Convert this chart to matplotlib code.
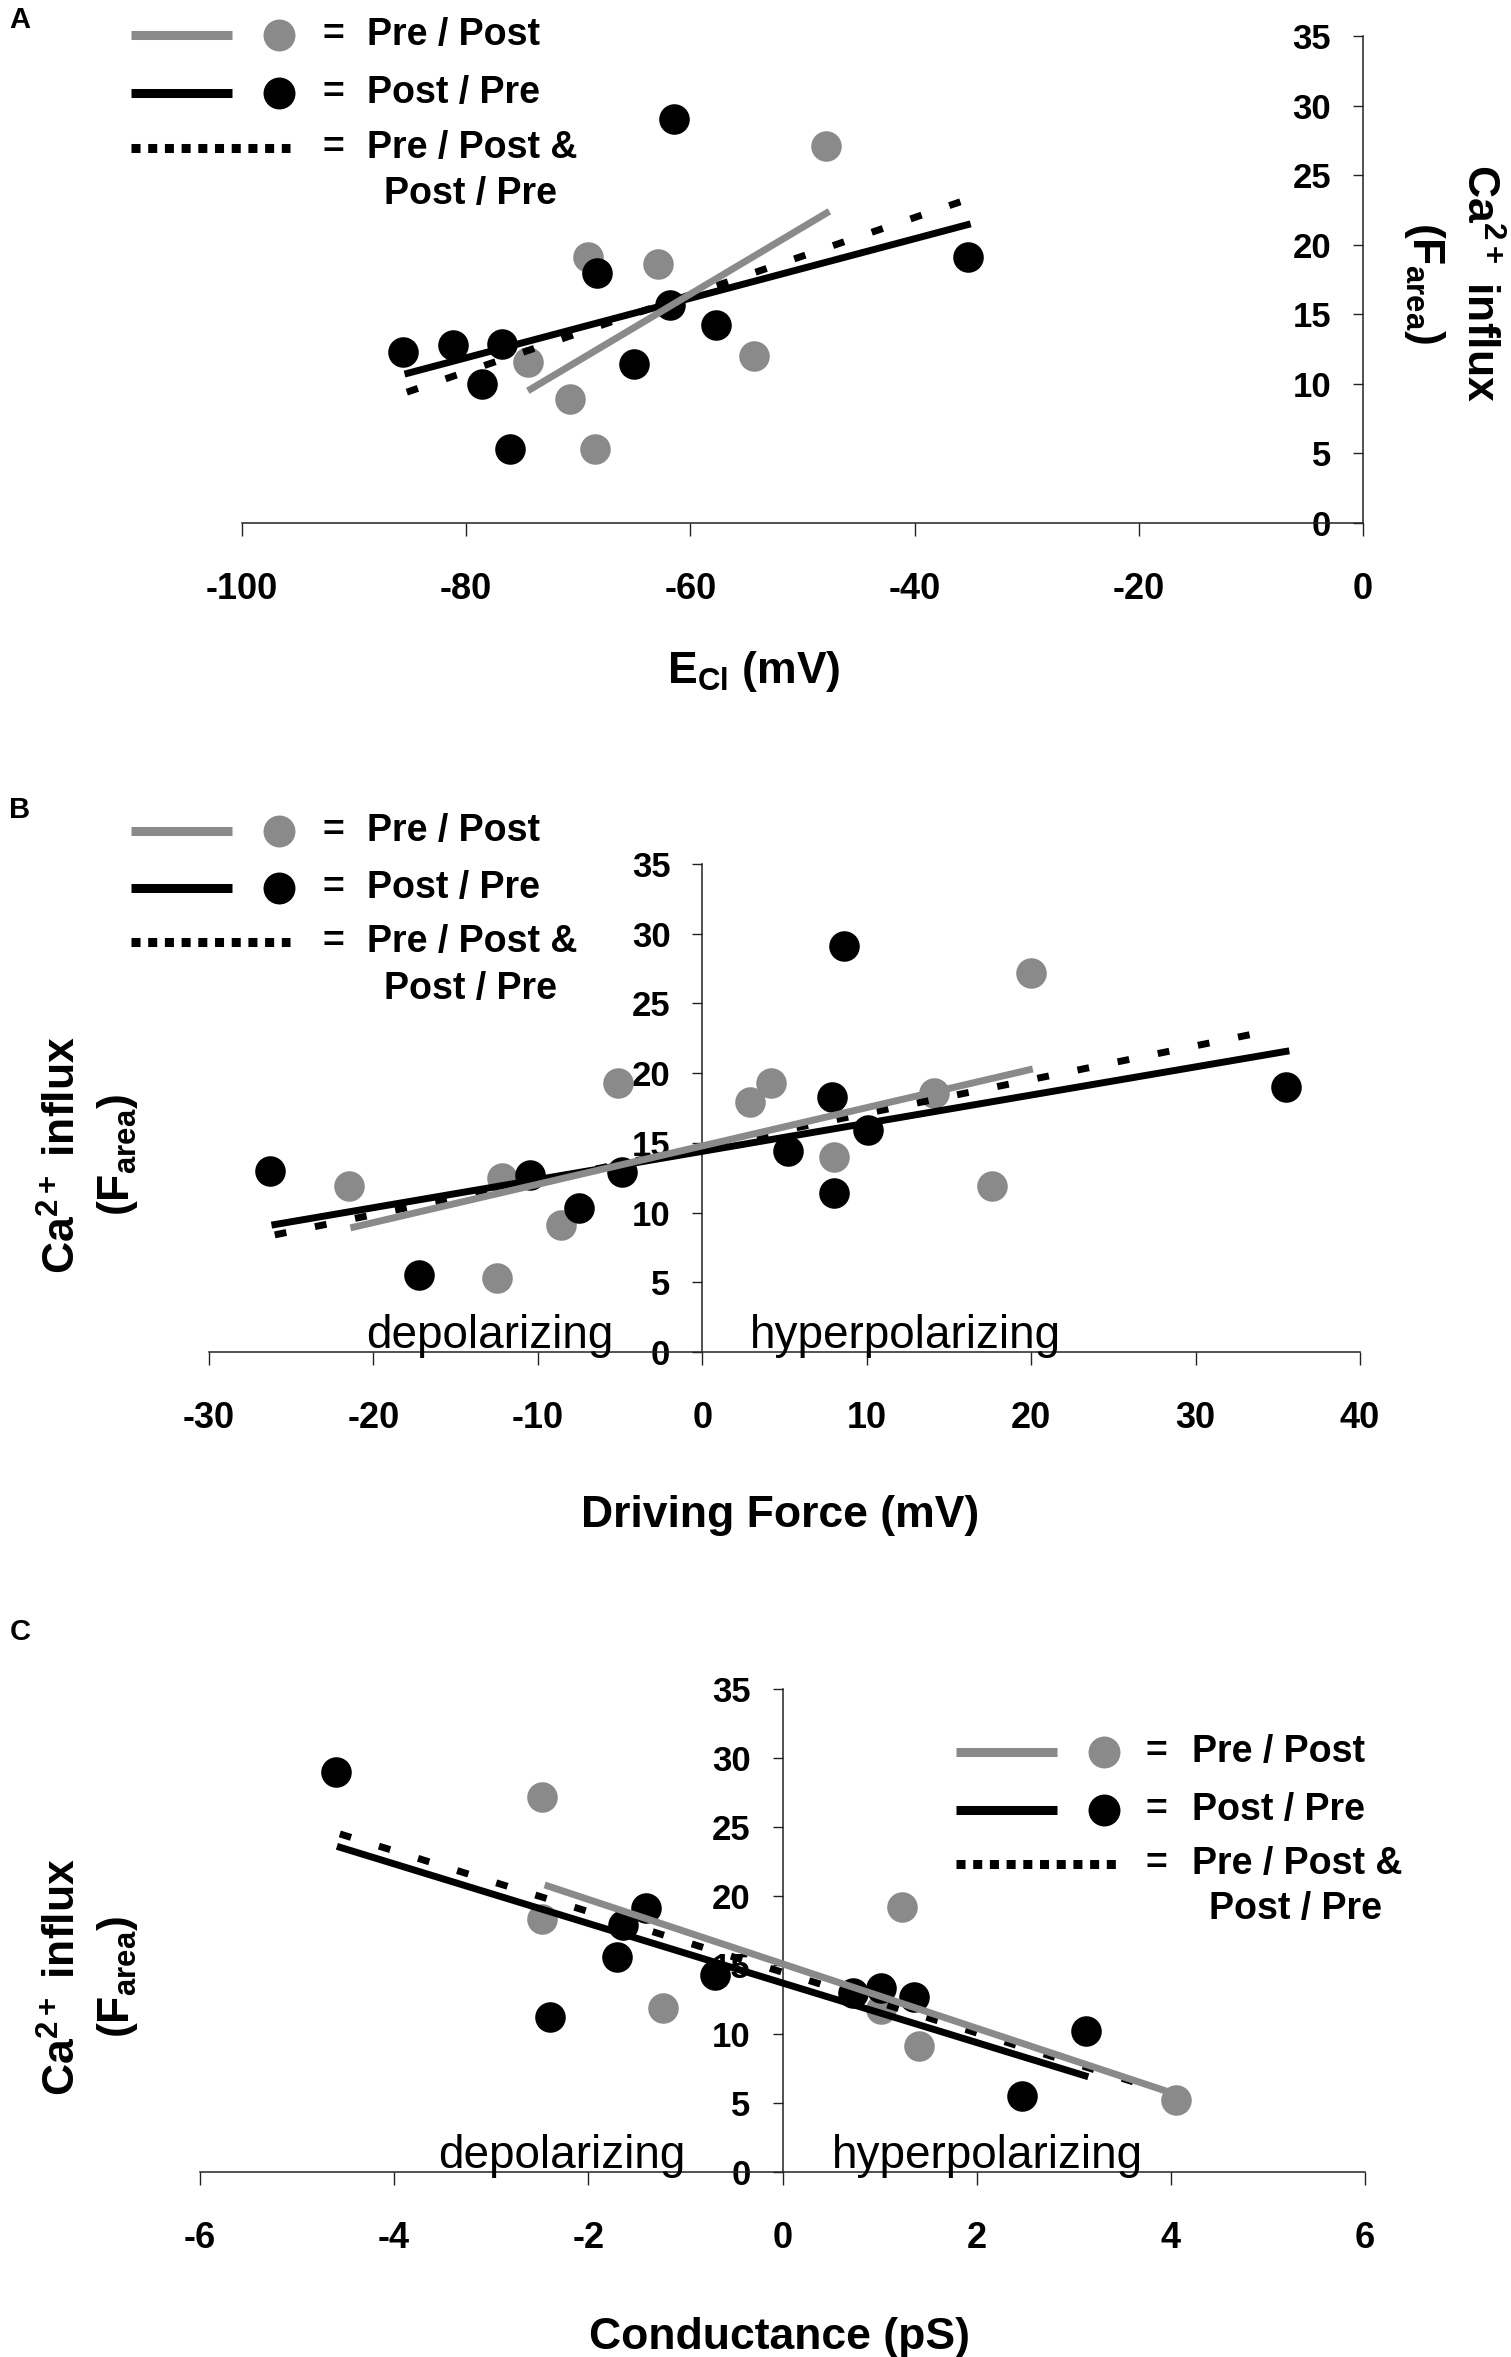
import matplotlib
matplotlib.use('Agg')
import matplotlib.pyplot as plt
from matplotlib.lines import Line2D

plt.rcParams['font.family'] = ['Liberation Sans', 'DejaVu Sans']
plt.rcParams['font.weight'] = 'bold'
plt.rcParams['axes.unicode_minus'] = False
plt.rcParams['mathtext.fontset'] = 'custom'
plt.rcParams['mathtext.rm'] = 'Liberation Sans:bold'
plt.rcParams['mathtext.it'] = 'Liberation Sans:bold'
plt.rcParams['mathtext.bf'] = 'Liberation Sans:bold'

W, H, DPI = 1511, 2357, 100
GRAY = '#8a8a8a'

# ---------------- Data ----------------
# Panel A: E_Cl (mV) vs Ca2+ influx
a_pre_x = [-69.1, -62.9, -47.9, -74.5, -70.7, -68.5, -54.3]
a_pre_y = [19.1, 18.6, 27.1, 11.6, 8.9, 5.3, 12.0]
a_post_x = [-85.6, -81.2, -76.8, -78.6, -76.1, -68.3, -61.5, -61.8, -57.7, -65.0, -35.2]
a_post_y = [12.3, 12.8, 12.9, 10.0, 5.3, 18.0, 29.0, 15.7, 14.2, 11.4, 19.1]
a_fit_pre_x, a_fit_pre_y = [-74.5, -47.6], [9.5, 22.4]
a_fit_post_x, a_fit_post_y = [-85.5, -35.0], [10.7, 21.5]
a_fit_all_x, a_fit_all_y = [-85.3, -35.5], [9.4, 23.2]
a_xticks = [-100, -80, -60, -40, -20, 0]

# Panel B: Driving force (mV)
b_pre_x = [-21.5, -12.2, -12.5, -8.6, -5.1, 2.9, 4.2, 8.0, 14.1, 17.6, 20.0]
b_pre_y = [11.9, 12.5, 5.3, 9.1, 19.3, 17.9, 19.3, 14.0, 18.6, 11.9, 27.2]
b_post_x = [-26.3, -17.2, -10.5, -7.5, -4.9, 5.2, 7.9, 8.6, 10.1, 8.0, 35.5]
b_post_y = [13.0, 5.5, 12.7, 10.3, 12.9, 14.4, 18.3, 29.1, 15.9, 11.4, 19.0]
b_fit_pre_x, b_fit_pre_y = [-21.4, 20.1], [8.9, 20.3]
b_fit_post_x, b_fit_post_y = [-26.2, 35.7], [9.1, 21.6]
b_fit_all_x, b_fit_all_y = [-26.0, 34.3], [8.4, 23.0]
b_xticks = [-30, -20, -10, 0, 10, 20, 30, 40]

# Panel C: Conductance (pS)
c_pre_x = [-2.48, -2.48, -1.23, 1.23, 1.01, 1.41, 4.05]
c_pre_y = [27.2, 18.3, 11.9, 19.2, 11.8, 9.1, 5.2]
c_post_x = [-4.60, -2.40, -1.70, -1.64, -1.41, -0.70, 0.73, 1.01, 1.35, 2.47, 3.13]
c_post_y = [29.0, 11.2, 15.6, 17.9, 19.1, 14.3, 13.0, 13.3, 12.7, 5.5, 10.2]
c_fit_pre_x, c_fit_pre_y = [-2.45, 3.98], [20.8, 5.8]
c_fit_post_x, c_fit_post_y = [-4.59, 3.15], [23.6, 6.9]
c_fit_all_x, c_fit_all_y = [-4.56, 3.90], [24.5, 5.9]
c_xticks = [-6, -4, -2, 0, 2, 4, 6]

yticks = [0, 5, 10, 15, 20, 25, 30, 35]
legend_labels = ['Pre / Post', 'Post / Pre', 'Pre / Post &', 'Post / Pre']
ylabel_text = 'Ca$^{2+}$ influx\n(F$_{\\mathrm{area}}$)'

fig = plt.figure(figsize=(W / DPI, H / DPI), dpi=DPI)


def fx(x):
    return x / W


def fy(y):
    return 1 - y / H


def make_axes(l, r, t, b):
    return fig.add_axes([fx(l), fy(b), (r - l) / W, (b - t) / H])


def setup(ax, xlim, xticks):
    ax.set_xlim(*xlim)
    ax.set_ylim(0, 35)
    ax.patch.set_alpha(0)
    for s in ['top', 'right']:
        ax.spines[s].set_visible(False)
    ax.spines['left'].set_position(('data', 0))
    for s in ['left', 'bottom']:
        ax.spines[s].set_linewidth(1.1)
        ax.spines[s].set_color('#222222')
    ax.set_xticks(xticks)
    ax.set_yticks(yticks)
    ax.tick_params(axis='x', direction='out', length=9, width=1.0, pad=26,
                   labelsize=26, color='#222222')
    ax.tick_params(axis='y', direction='out', length=7, width=1.0, pad=16,
                   labelsize=25, color='#222222')
    ax.set_axisbelow(True)


def draw_data(ax, px_, py_, qx, qy, fp, fq, fa):
    ax.plot(px_, py_, 'o', ms=22, color=GRAY, mec='none', zorder=3, clip_on=False)
    ax.plot(qx, qy, 'o', ms=22, color='black', mec='none', zorder=3, clip_on=False)
    ax.plot(fa[0], fa[1], color='black', lw=5, linestyle=(0, (1.7, 4.2)),
            dash_capstyle='butt', zorder=4, clip_on=False)
    ax.plot(fq[0], fq[1], color='black', lw=5, solid_capstyle='butt', zorder=5, clip_on=False)
    ax.plot(fp[0], fp[1], color=GRAY, lw=5, solid_capstyle='butt', zorder=6, clip_on=False)


def draw_legend(x0, x1, xc, xe, xt, xt2, xd1, ys):
    kw = dict(transform=fig.transFigure)
    fig.add_artist(Line2D([fx(x0), fx(x1)], [fy(ys[0])] * 2, color=GRAY, lw=6.5,
                          solid_capstyle='butt', **kw))
    fig.add_artist(Line2D([fx(x0), fx(x1)], [fy(ys[1])] * 2, color='black', lw=6.5,
                          solid_capstyle='butt', **kw))
    fig.add_artist(Line2D([fx(x0), fx(xd1)], [fy(ys[2])] * 2, color='black', lw=6.5,
                          linestyle=(0, (1.0, 0.85)), dash_capstyle='butt', **kw))
    fig.add_artist(Line2D([fx(xc)], [fy(ys[0])], marker='o', ms=23, color=GRAY,
                          mec='none', linestyle='none', **kw))
    fig.add_artist(Line2D([fx(xc)], [fy(ys[1])], marker='o', ms=23, color='black',
                          mec='none', linestyle='none', **kw))
    for i in range(3):
        fig.text(fx(xe), fy(ys[i]), '=', ha='center', va='center', fontsize=27)
        fig.text(fx(xt), fy(ys[i]), legend_labels[i], ha='left', va='center', fontsize=27)
    fig.text(fx(xt2), fy(ys[3]), legend_labels[3], ha='left', va='center', fontsize=27)


# ---------------- Panel A ----------------
axA = make_axes(242, 1363, 36, 523)
setup(axA, (-100, 0), a_xticks)
draw_data(axA, a_pre_x, a_pre_y, a_post_x, a_post_y,
          (a_fit_pre_x, a_fit_pre_y), (a_fit_post_x, a_fit_post_y), (a_fit_all_x, a_fit_all_y))
draw_legend(131, 232, 279, 333, 367, 384, 290, [35, 93, 148, 194])
fig.text(fx(754), fy(672), 'E$_{\\mathrm{Cl}}$ (mV)', ha='center', va='center', fontsize=32)
fig.text(fx(1451), fy(283), ylabel_text, rotation=270, ha='center', va='center',
         multialignment='center', fontsize=32, linespacing=1.3)
fig.text(fx(20), fy(20), 'A', ha='center', va='center', fontsize=21)

# ---------------- Panel B ----------------
axB = make_axes(209, 1360, 864, 1352)
setup(axB, (-30, 40), b_xticks)
draw_data(axB, b_pre_x, b_pre_y, b_post_x, b_post_y,
          (b_fit_pre_x, b_fit_pre_y), (b_fit_post_x, b_fit_post_y), (b_fit_all_x, b_fit_all_y))
draw_legend(131, 232, 279, 333, 367, 384, 290, [831, 888, 942, 989])
axB.text(-20.45, 0.3, 'depolarizing', fontsize=33, fontweight='normal', va='baseline', zorder=7)
axB.text(2.9, 0.3, 'hyperpolarizing', fontsize=33, fontweight='normal', va='baseline', zorder=7)
fig.text(fx(780), fy(1516), 'Driving Force (mV)', ha='center', va='center', fontsize=32)
fig.text(fx(91), fy(1155), ylabel_text, rotation=90, ha='center', va='center',
         multialignment='center', fontsize=32, linespacing=1.3)
fig.text(fx(20), fy(810), 'B', ha='center', va='center', fontsize=21)

# ---------------- Panel C ----------------
axC = make_axes(200, 1365, 1689, 2172)
setup(axC, (-6, 6), c_xticks)
draw_data(axC, c_pre_x, c_pre_y, c_post_x, c_post_y,
          (c_fit_pre_x, c_fit_pre_y), (c_fit_post_x, c_fit_post_y), (c_fit_all_x, c_fit_all_y))
draw_legend(956, 1057, 1104, 1156, 1192, 1209, 1117, [1752, 1810, 1864, 1909])
axC.text(-3.55, 0.3, 'depolarizing', fontsize=33, fontweight='normal', va='baseline', zorder=7)
axC.text(0.51, 0.3, 'hyperpolarizing', fontsize=33, fontweight='normal', va='baseline', zorder=7)
fig.text(fx(780), fy(2338), 'Conductance (pS)', ha='center', va='center', fontsize=32)
fig.text(fx(91), fy(1977), ylabel_text, rotation=90, ha='center', va='center',
         multialignment='center', fontsize=32, linespacing=1.3)
fig.text(fx(20), fy(1632), 'C', ha='center', va='center', fontsize=21)

fig.savefig('out.png', dpi=DPI)
